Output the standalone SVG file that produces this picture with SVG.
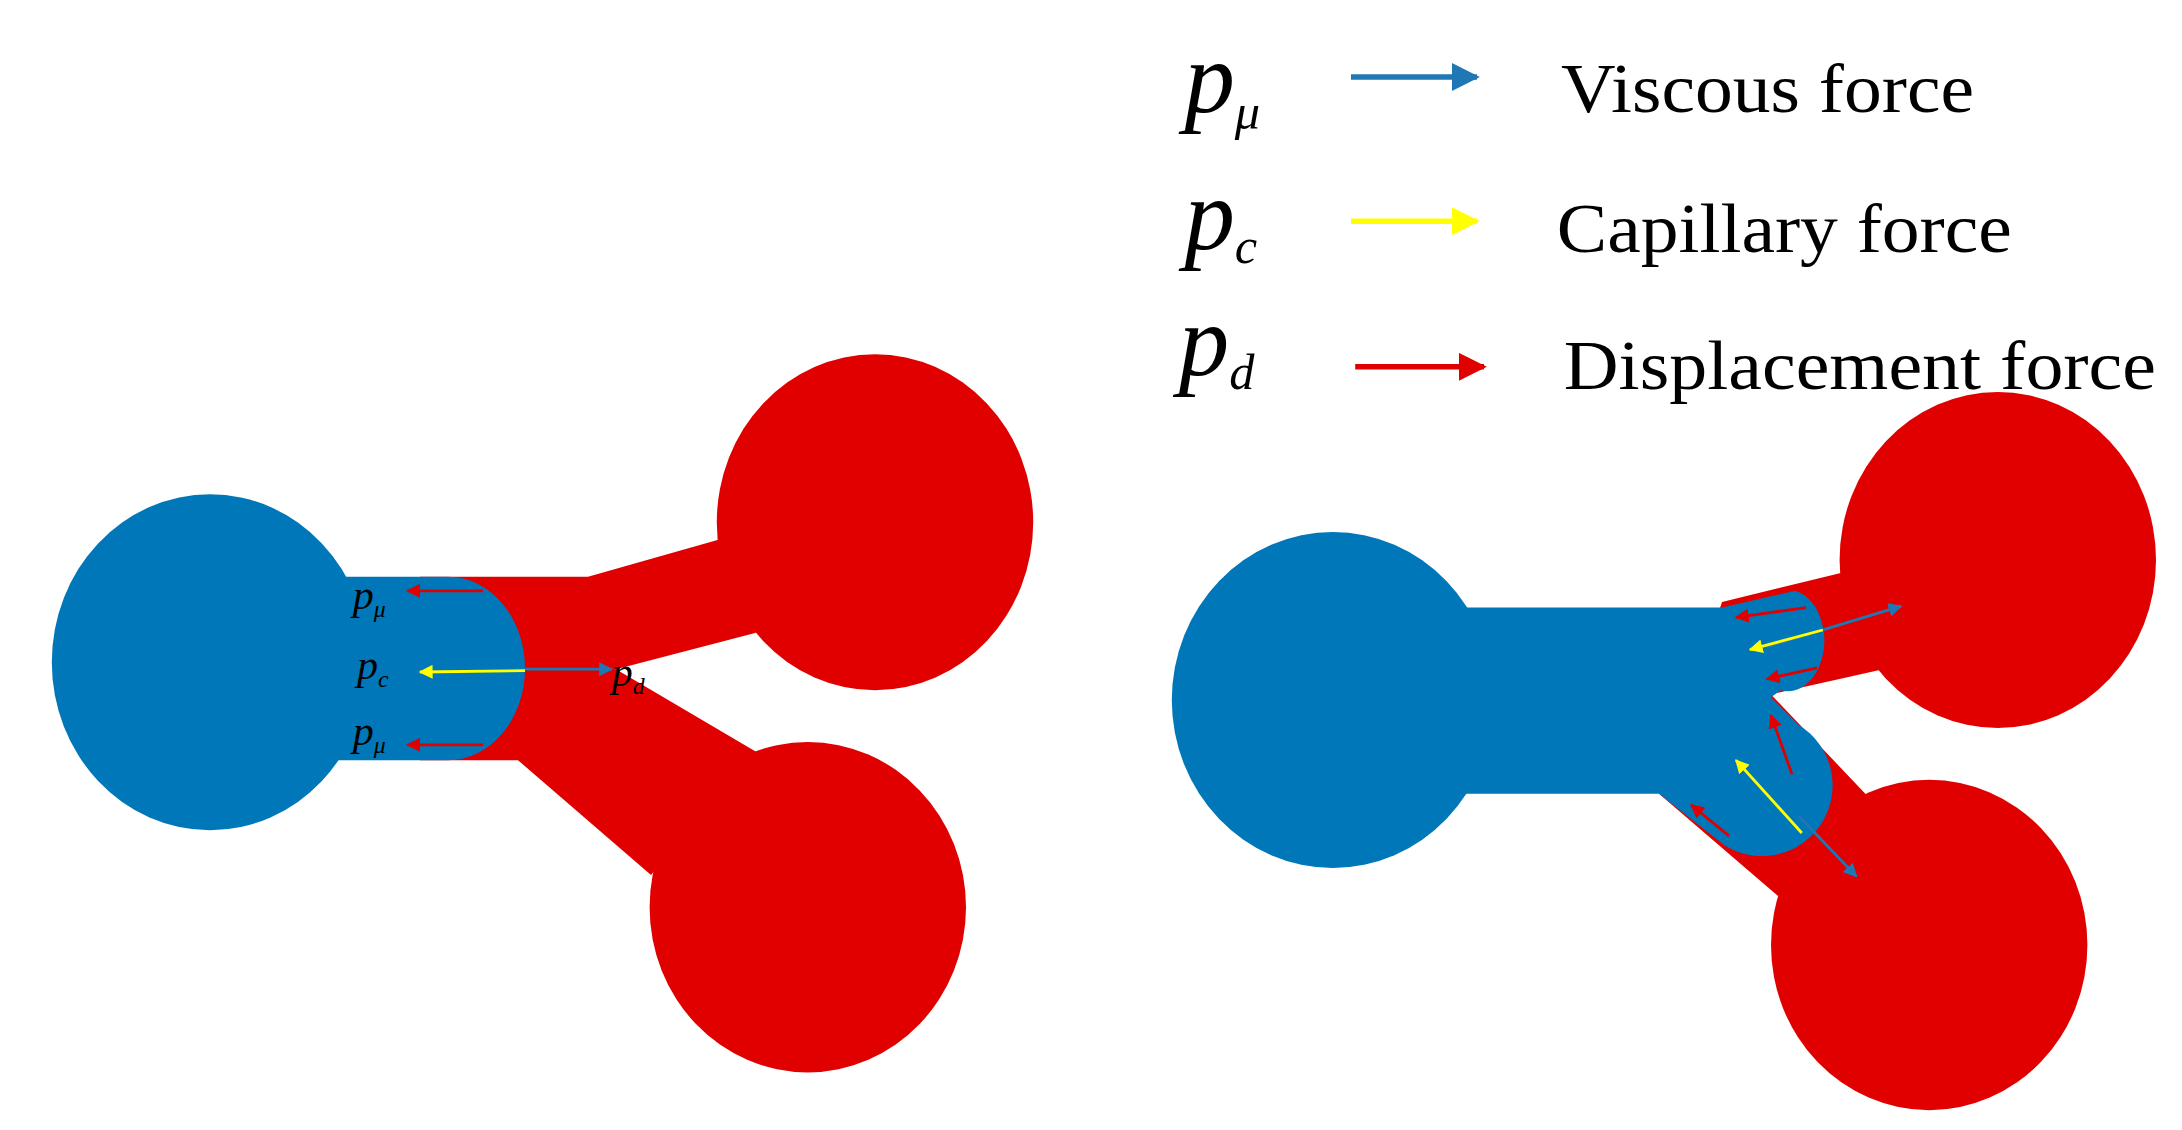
<svg xmlns="http://www.w3.org/2000/svg" width="2182" height="1130" viewBox="0 0 2182 1130">
<style>
.r{fill:#e00000}.b{fill:#0077b8}
.m{font-family:"Liberation Serif",serif;font-style:italic;fill:#000}
.t{font-family:"Liberation Serif",serif;font-size:50px;fill:#000}
.ab{stroke:#1f77b4;stroke-width:2;fill:none}.ay{stroke:#ffff00;stroke-width:2;fill:none}.ar{stroke:#e00000;stroke-width:2;fill:none}
</style>
<defs>
<marker id="mb" viewBox="0 0 10 10" refX="9" refY="5" markerWidth="5" markerHeight="5" orient="auto"><path d="M0,0L10,5L0,10Z" fill="#1f77b4"/></marker>
<marker id="my" viewBox="0 0 10 10" refX="9" refY="5" markerWidth="5" markerHeight="5" orient="auto"><path d="M0,0L10,5L0,10Z" fill="#ffff00"/></marker>
<marker id="mr" viewBox="0 0 10 10" refX="9" refY="5" markerWidth="5" markerHeight="5" orient="auto"><path d="M0,0L10,5L0,10Z" fill="#e00000"/></marker>
</defs>
<g transform="scale(1.4)">
<g id="legend">
<text class="m" x="846" y="80" font-size="72">p<tspan font-size="36" dy="12">μ</tspan></text>
<text class="m" x="846" y="178" font-size="72">p<tspan font-size="36" dy="10">c</tspan></text>
<text class="m" x="842" y="268" font-size="72">p<tspan font-size="36" dy="10">d</tspan></text>
<line x1="965" y1="55" x2="1055" y2="55" stroke="#1f77b4" stroke-width="4" marker-end="url(#mb)"/>
<line x1="965" y1="158" x2="1055" y2="158" stroke="#ffff00" stroke-width="4" marker-end="url(#my)"/>
<line x1="968" y1="262" x2="1060" y2="262" stroke="#e00000" stroke-width="4" marker-end="url(#mr)"/>
<text class="t" x="1115" y="80" textLength="295" lengthAdjust="spacingAndGlyphs">Viscous force</text>
<text class="t" x="1112" y="180" textLength="325" lengthAdjust="spacingAndGlyphs">Capillary force</text>
<text class="t" x="1117" y="278" textLength="423" lengthAdjust="spacingAndGlyphs">Displacement force</text>
</g>
<g id="left-model">
<path class="r" d="M300,412H420L515,385L540,452L440,478L540,537L465,625L370,543H300Z"/>
<ellipse class="r" cx="625" cy="373" rx="113" ry="120"/>
<ellipse class="r" cx="577" cy="648" rx="113" ry="118"/>
<ellipse class="b" cx="150" cy="473" rx="113" ry="120"/>
<path class="b" d="M230,412H320A55,65.5 0 0 1 320,543H230Z"/>
</g>
<g id="right-model">
<path class="r" d="M1230,430L1320,408L1345,478L1265,496L1340,575L1270,640L1185,567Z"/>
<ellipse class="r" cx="1427" cy="400" rx="113" ry="120"/>
<ellipse class="r" cx="1378" cy="675" rx="113" ry="118"/>
<ellipse class="b" cx="952" cy="500" rx="115" ry="120"/>
<path class="b" d="M1000,434H1230L1282,422A26,36 0 0 1 1272,493L1265,498L1285,518A46,46 0 0 1 1232,604L1185,567H1000Z"/>
</g>
<g id="connectors">
<line class="ar" x1="345" y1="422" x2="291" y2="422" marker-end="url(#mr)"/>
<line class="ar" x1="345" y1="532" x2="291" y2="532" marker-end="url(#mr)"/>
<line class="ay" x1="375" y1="479" x2="300" y2="480" marker-end="url(#my)"/>
<line class="ab" x1="375" y1="478" x2="437" y2="478" marker-end="url(#mb)"/>
<line class="ab" x1="1262" y1="462" x2="1358" y2="433" marker-end="url(#mb)"/>
<line class="ay" x1="1302" y1="450" x2="1250" y2="464" marker-end="url(#my)"/>
<line class="ar" x1="1290" y1="434" x2="1240" y2="441" marker-end="url(#mr)"/>
<line class="ar" x1="1298" y1="477" x2="1262" y2="485" marker-end="url(#mr)"/>
<line class="ab" x1="1285" y1="583" x2="1326" y2="626" marker-end="url(#mb)"/>
<line class="ay" x1="1287" y1="595" x2="1240" y2="543" marker-end="url(#my)"/>
<line class="ar" x1="1280" y1="553" x2="1265" y2="511" marker-end="url(#mr)"/>
<line class="ar" x1="1235" y1="597" x2="1208" y2="575" marker-end="url(#mr)"/>
</g>
<g id="labels">
<text class="m" x="252" y="435" font-size="30">p<tspan font-size="17" dy="6">μ</tspan></text>
<text class="m" x="255" y="485" font-size="30">p<tspan font-size="17" dy="6">c</tspan></text>
<text class="m" x="252" y="532" font-size="30">p<tspan font-size="17" dy="6">μ</tspan></text>
<text class="m" x="437" y="490" font-size="30">p<tspan font-size="17" dy="6">d</tspan></text>
</g>
</g>
</svg>
